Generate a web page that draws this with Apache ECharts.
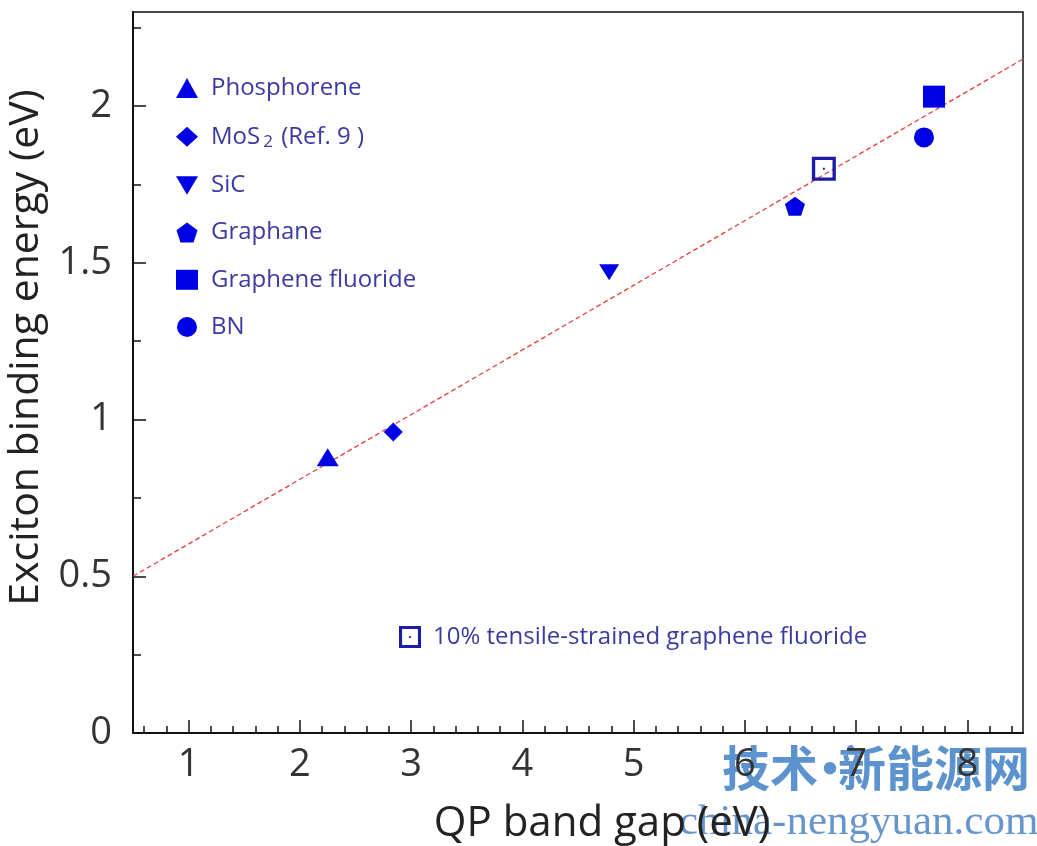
<!DOCTYPE html>
<html>
<head>
<meta charset="utf-8">
<script src="https://cdn.jsdelivr.net/npm/echarts@6/dist/echarts.min.js"></script>
<style>html,body{margin:0;padding:0;background:#fff}#c{width:1037px;height:846px}</style>
</head>
<body>
<div id="c"></div>
<script>
// ---- data ----
const materials = ['Phosphorene', 'MoS2 (Ref. 9 )', 'SiC', 'Graphane', 'Graphene fluoride', 'BN'];
const qpGap = [2.25, 2.84, 4.78, 6.45, 7.70, 7.61];
const bindingEnergy = [0.88, 0.96, 1.47, 1.68, 2.03, 1.90];
const strainedName = '10% tensile-strained graphene fluoride';
const strainedGap = [6.71];
const strainedEnergy = [1.80];
const fitX = [0.5, 8.5];
const fitY = [0.5, 2.15];
const xMajorTicks = [1, 2, 3, 4, 5, 6, 7, 8];
const yMajorTicks = [0, 0.5, 1, 1.5, 2];

// minor tick positions (axis decoration only)
const xMinorTicks = [];
for (let i = 3; i <= 42; i++) { const v = +(i * 0.2).toFixed(1); if (Math.abs(v - Math.round(v)) > 1e-6) xMinorTicks.push(v); }
const yMinorTicks = [0.25, 0.75, 1.25, 1.75, 2.25];

const symbols = [
  'triangle', 'diamond', 'path://M0,0 L10,0 L5,8.4 Z',
  'path://M50,0 L97.6,34.5 L79.4,90.5 L20.6,90.5 L2.4,34.5 Z',
  'rect', 'circle'
];
const symbolSizes = [[22, 18], [19, 19], [20, 16], [20, 19], [22, 22], [20, 20]];
const openSquare = 'path://M0,0 H10 V10 H0 Z M1.4,1.4 V8.6 H8.6 V1.4 Z M4.6,4.6 H5.4 V5.4 H4.6 Z';

const BLUE = '#0000e6';
const TEXTBLUE = '#3a3aa0';
const FONT = '"Open Sans", "DejaVu Sans", sans-serif';
const WM1 = 'rgba(70,132,200,0.88)';
const WM2 = 'rgba(75,130,195,0.85)';

const series = [{
  type: 'line',
  data: fitX.map((x, i) => [x, fitY[i]]),
  showSymbol: false,
  symbol: 'none',
  silent: true,
  z: 1,
  lineStyle: { color: '#e0403c', width: 1.3, type: [5, 3] }
}];
materials.forEach((m, i) => {
  series.push({
    name: m,
    type: 'scatter',
    data: [[qpGap[i], bindingEnergy[i]]],
    symbol: symbols[i],
    symbolSize: symbolSizes[i],
    itemStyle: { color: BLUE, opacity: 1 },
    z: 3
  });
});
series.push({
  name: strainedName,
  type: 'scatter',
  data: strainedGap.map((x, i) => [x, strainedEnergy[i]]),
  symbol: openSquare,
  symbolSize: 24,
  itemStyle: { color: '#1c1ca8', opacity: 1 },
  z: 3
});

const chart = echarts.init(document.getElementById('c'), null, { renderer: 'canvas' });
chart.setOption({
  animation: false,
  backgroundColor: '#ffffff',
  grid: { left: 133, right: 14, top: 12, bottom: 113, containLabel: false, outerBoundsMode: 'none',
          show: true, borderColor: '#111', borderWidth: 1.5, backgroundColor: 'transparent' },
  xAxis: [{
    type: 'value', min: 0.5, max: 8.5, interval: 0.1,
    axisLine: { show: true, onZero: false, lineStyle: { color: '#111', width: 2 } },
    axisTick: { show: true, inside: true, length: 13, customValues: xMajorTicks, lineStyle: { color: '#111', width: 1.5 } },
    axisLabel: { show: true, customValues: xMajorTicks, margin: 13, color: '#333', fontSize: 38, fontFamily: FONT, formatter: v => String(v) },
    splitLine: { show: false },
    name: 'QP band gap (eV)', nameLocation: 'middle', nameGap: 70,
    nameTextStyle: { fontSize: 42, color: '#222', fontFamily: FONT, padding: [0, 0, 0, 48] }
  }, {
    type: 'value', min: 0.5, max: 8.5, interval: 0.1, position: 'bottom',
    axisLine: { show: false },
    axisTick: { show: true, inside: true, length: 7, customValues: xMinorTicks, lineStyle: { color: '#111', width: 1.5 } },
    axisLabel: { show: false }, splitLine: { show: false }
  }],
  yAxis: [{
    type: 'value', min: 0, max: 2.3, interval: 0.25,
    axisLine: { show: true, onZero: false, lineStyle: { color: '#111', width: 2 } },
    axisTick: { show: true, inside: true, length: 13, customValues: yMajorTicks, lineStyle: { color: '#111', width: 1.5 } },
    axisLabel: { show: true, customValues: yMajorTicks, margin: 21, color: '#333', fontSize: 38, fontFamily: FONT, formatter: v => String(v) },
    splitLine: { show: false },
    name: 'Exciton binding energy (eV)', nameLocation: 'middle', nameGap: 86, nameRotate: 90,
    nameTextStyle: { fontSize: 41, color: '#222', fontFamily: FONT, padding: [0, 0, 0, 50] }
  }, {
    type: 'value', min: 0, max: 2.3, interval: 0.25, position: 'left',
    axisLine: { show: false },
    axisTick: { show: true, inside: true, length: 8, customValues: yMinorTicks, lineStyle: { color: '#111', width: 1.5 } },
    axisLabel: { show: false }, splitLine: { show: false }
  }],
  legend: [{
    data: materials,
    orient: 'vertical',
    left: 176, top: 76, padding: 0,
    itemWidth: 22, itemHeight: 20, itemGap: 23.2,
    selectedMode: false,
    textStyle: {
      color: TEXTBLUE, fontSize: 24, fontFamily: FONT, padding: [0, 0, 0, 8], lineHeight: 24,
      rich: {
        a: { color: TEXTBLUE, fontSize: 24, fontFamily: FONT, lineHeight: 24 },
        s: { color: TEXTBLUE, fontSize: 17, fontFamily: FONT, lineHeight: 14, padding: [10, 2, 0, 3] }
      }
    },
    formatter: n => n.indexOf('MoS2') === 0 ? '{a|MoS}{s|2}{a| (Ref. 9 )}' : n
  }, {
    data: [strainedName],
    orient: 'vertical',
    left: 399, top: 625, padding: 0,
    itemWidth: 24, itemHeight: 22,
    selectedMode: false,
    textStyle: { color: TEXTBLUE, fontSize: 24, fontFamily: FONT, padding: [0, 0, 0, 6] }
  }],
  graphic: [{
    type: 'text', left: 722, top: 744, silent: true,
    style: { text: '技术', fill: WM1, font: 'bold 48px "Noto Sans CJK SC"' }
  }, {
    type: 'text', left: 806, top: 744, silent: true,
    style: { text: '·', fill: WM1, font: 'bold 48px "Noto Sans CJK SC"' }
  }, {
    type: 'text', left: 838, top: 744, silent: true,
    style: { text: '新能源网', fill: WM1, font: 'bold 48px "Noto Sans CJK SC"' }
  }, {
    type: 'text', left: 679, top: 801, silent: true,
    style: { text: 'china-nengyuan.com', fill: WM2, font: '43px "Liberation Serif", "DejaVu Serif", serif' }
  }],
  series: series
});
</script>
</body>
</html>
